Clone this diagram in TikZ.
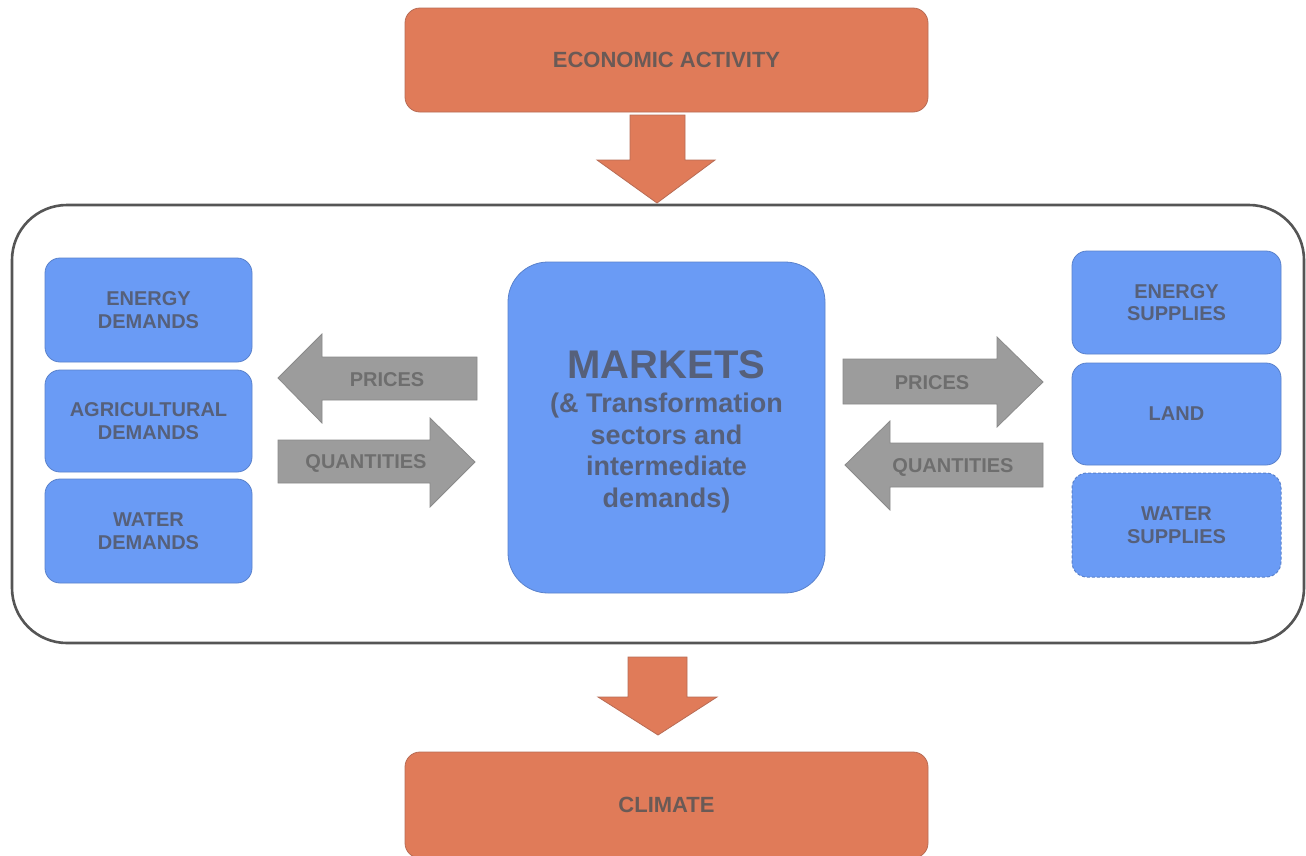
\documentclass[tikz,border=0pt]{standalone}
\usepackage{fontspec}
\setmainfont{Liberation Sans}
\definecolor{orng}{HTML}{E07B59}
\definecolor{orngline}{HTML}{B86C55}
\definecolor{blu}{HTML}{6A9BF5}
\definecolor{bluline}{HTML}{5A82CC}
\definecolor{blutext}{HTML}{56607A}
\definecolor{orntext}{HTML}{6A5A56}
\definecolor{gryfill}{HTML}{9C9C9C}
\definecolor{gryline}{HTML}{8A8A8A}
\definecolor{grytext}{HTML}{6E6E6E}
\definecolor{frame}{HTML}{555555}
\tikzset{
  orangebox/.style={draw=orngline, line width=0.8pt, fill=orng, rounded corners=15pt,
    minimum width=523pt, minimum height=104pt, text=orntext,
    font=\bfseries\fontsize{22}{24}\selectfont},
  bluebox/.style={draw=bluline, line width=0.8pt, fill=blu, rounded corners=15pt,
    minimum width=207pt, minimum height=104pt, text=blutext, align=center,
    font=\bfseries\fontsize{20}{22.5}\selectfont},
  grayarrow/.style={draw=gryline, line width=0.8pt, fill=gryfill},
  orangearrow/.style={draw=orngline, line width=0.8pt, fill=orng},
  arrowlabel/.style={text=grytext, font=\bfseries\fontsize{20}{22}\selectfont},
}
\begin{document}
\begin{tikzpicture}[x=1pt,y=-1pt]
\useasboundingbox (0,0) rectangle (1306,855);
\clip (0,0) rectangle (1306,855);
\fill[white] (0,0) rectangle (1306,855);

% container
\draw[frame, line width=2.6pt, rounded corners=55pt] (12,205) rectangle (1304,643);

% top and bottom boxes
\node[orangebox] (econ) at (666.5,60) {ECONOMIC ACTIVITY};
\node[orangebox, minimum height=106pt] (climate) at (666.5,805) {CLIMATE};

% vertical orange arrows
\path[orangearrow] (630,115) -- (685,115) -- (685,160) -- (715,160) -- (657,203)
  -- (597,160) -- (630,160) -- cycle;
\path[orangearrow] (628,657) -- (687,657) -- (687,697) -- (717,697) -- (658,735)
  -- (598,697) -- (628,697) -- cycle;

% markets
\node[draw=bluline, line width=0.8pt, fill=blu, rounded corners=40pt,
  minimum width=317pt, minimum height=331pt] (markets) at (666.5,427.5) {};
\node[text=blutext, align=center, font=\bfseries\fontsize{27}{31.7}\selectfont] (mtext) at (666.5,432)
  {{\fontsize{40}{42}\selectfont MARKETS}\\[2pt]
   (\& Transformation\\ sectors and\\ intermediate\\ demands)};

% left boxes
\node[bluebox] (ed) at (148.5,310) {ENERGY\\DEMANDS};
\node[bluebox, minimum height=102pt] (ad) at (148.5,421) {AGRICULTURAL\\DEMANDS};
\node[bluebox] (wd) at (148.5,531) {WATER\\DEMANDS};

% right boxes
\node[bluebox, minimum width=209pt, minimum height=103pt] (es) at (1176.5,302.5) {ENERGY\\SUPPLIES};
\node[bluebox, minimum width=209pt, minimum height=102pt] (land) at (1176.5,414) {LAND};
\node[bluebox, minimum width=209pt, dashed, dash pattern=on 3pt off 2pt, line width=1pt] (ws) at (1176.5,525) {WATER\\SUPPLIES};

% left gray arrows
\path[grayarrow] (477,357) -- (322,357) -- (322,334) -- (278,378) -- (322,423)
  -- (322,400) -- (477,400) -- cycle;
\node[arrowlabel] (lprices) at (387,380) {PRICES};
\path[grayarrow] (278,440) -- (430,440) -- (430,418) -- (475,462) -- (430,507)
  -- (430,483) -- (278,483) -- cycle;
\node[arrowlabel] (lquant) at (366,463) {QUANTITIES};

% right gray arrows
\path[grayarrow] (843,359) -- (997,359) -- (997,337) -- (1043,382) -- (997,427)
  -- (997,404) -- (843,404) -- cycle;
\node[arrowlabel] (rprices) at (932,383) {PRICES};
\path[grayarrow] (1043,443) -- (890,443) -- (890,421) -- (845,465) -- (890,510)
  -- (890,487) -- (1043,487) -- cycle;
\node[arrowlabel] (rquant) at (953,467) {QUANTITIES};
\end{tikzpicture}
\end{document}
